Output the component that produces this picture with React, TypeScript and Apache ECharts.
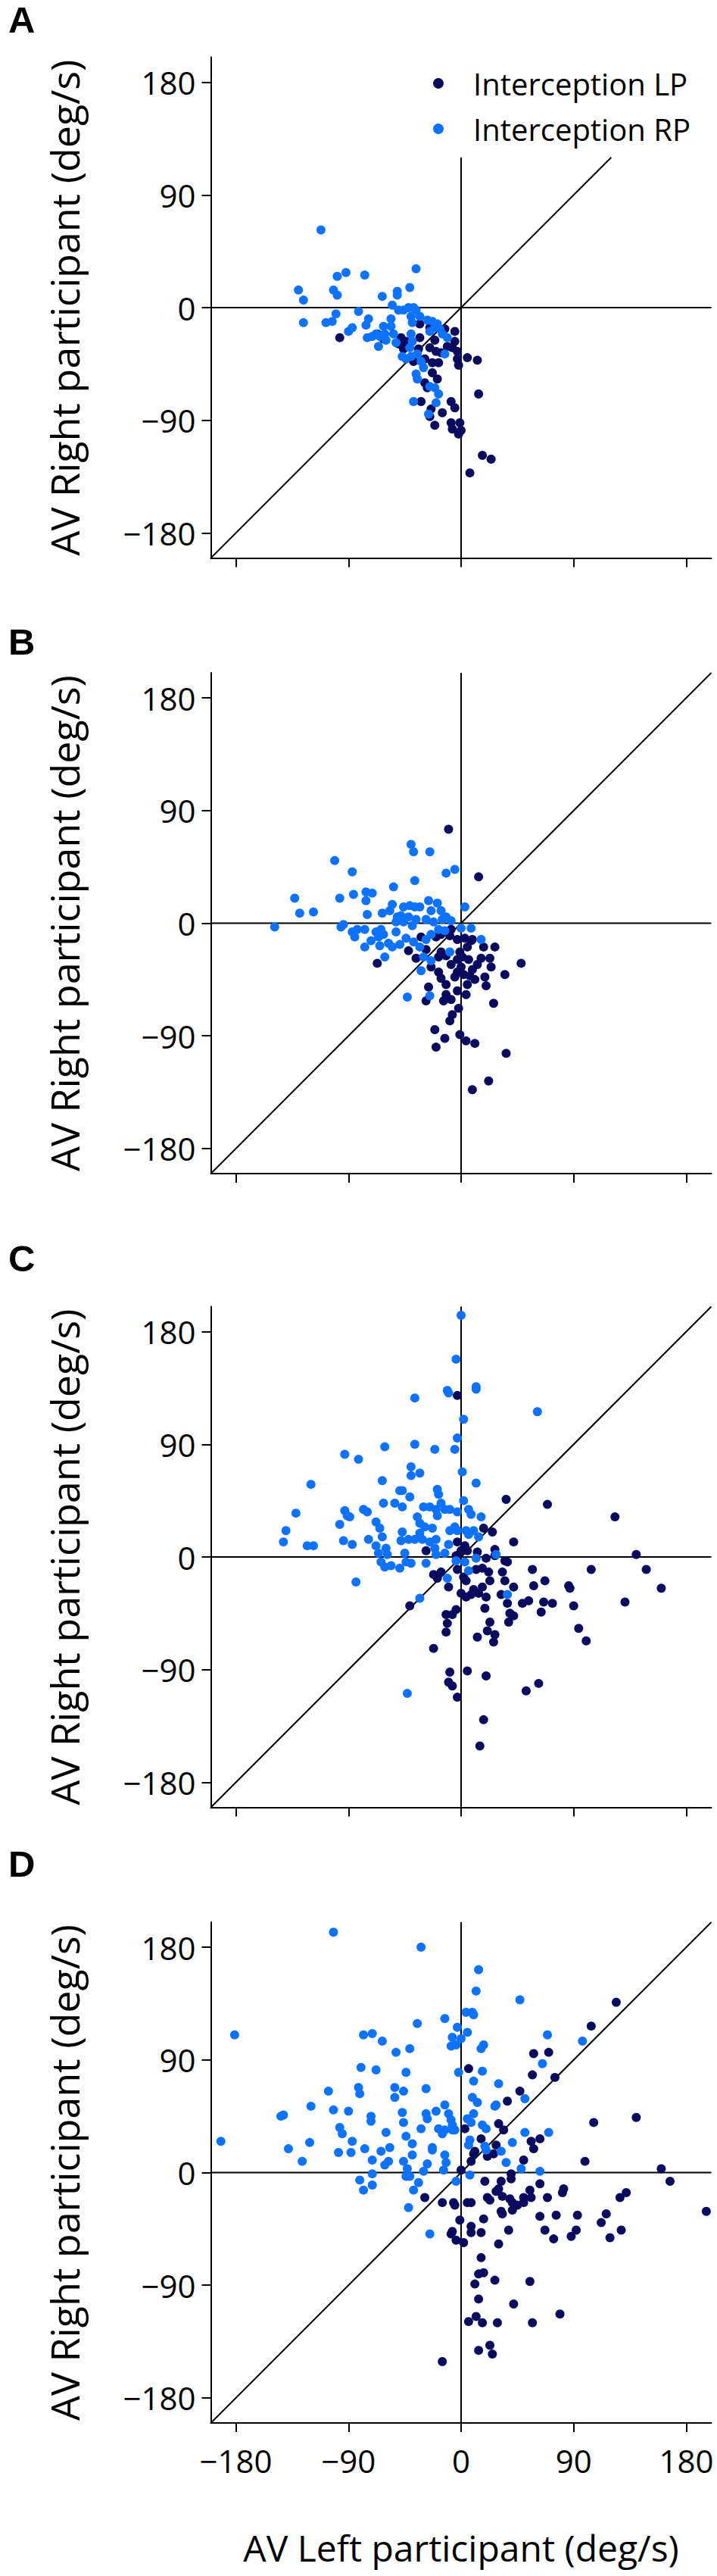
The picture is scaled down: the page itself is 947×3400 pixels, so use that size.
import React, { useEffect, useRef } from "react";
import * as echarts from "echarts";

const panelLabels = ["A", "B", "C", "D"];
const tickValues = [-180, -90, 0, 90, 180];
const refLineTop = [120, 200, 200, 200];
const seriesNames = ["Interception LP", "Interception RP"];
const seriesColors = ["#0a0a5e", "#0d72ff"];

const aLP = [[-97,-24],[-33,-13],[-25,-16],[-21,-26],[-13,-17],[-5,-19],[-5,-27],[-3,-35],[-3,-41],[-2,-46],[5,-40],[13,-42],[14,-69],[-8,-75],[-5,-80],[-15,-84],[-24,-81],[-25,-87],[-21,-94],[-32,-75],[-8,-92],[-7,-97],[-2,-101],[-1,-92],[0,-98],[17,-118],[24,-121],[7,-132],[-48,-24],[-44,-27],[-50,-29],[-46,-33],[-38,-43],[-34,-33],[-25,-32],[-29,-41],[-23,-44],[-18,-44],[-23,-52],[-19,-57],[-29,-60],[-27,-64],[-67,-21],[-62,-25],[-11,-31],[-7,-32],[-33,-24],[-16,-36],[-20,-35]];
const aRP = [[-36,31],[-92,28],[-99,25],[-77,26],[-130,14],[-126,6],[-102,14],[-99,10],[-63,9],[-51,13],[-51,10],[-41,16],[-126,-12],[-108,-12],[-103,-11],[-100,-5],[-82,-3],[-90,-19],[-87,-16],[-74,-9],[-76,-14],[-75,-24],[-66,-31],[-62,-15],[-56,-9],[-56,-15],[-55,2],[-60,-26],[-61,-21],[-65,-23],[-50,-2],[-46,-2],[-42,0],[-38,0],[-36,-2],[-40,-7],[-33,-7],[-39,-12],[-27,-10],[-23,-11],[-19,-13],[-15,-21],[-25,-19],[-21,-16],[-40,-21],[-39,-27],[-41,-32],[-47,-39],[-44,-41],[-40,-39],[-35,-37],[-32,-43],[-30,-48],[-36,-53],[-35,-57],[-25,-63],[-21,-64],[-18,-69],[-20,-76],[-38,-75],[-26,-85],[-13,-37],[-11,-24],[-17,-17],[-54,-21],[-52,-28],[-68,-21],[-71,-23],[-112,62]];

const bLP = [[14,37],[-32,-11],[-67,-32],[-42,-22],[-36,-28],[-28,-21],[-20,-11],[-16,-9],[-9,-10],[-3,-13],[3,-12],[8,-14],[5,-19],[-1,-23],[-3,-29],[0,-35],[-3,-39],[-8,-33],[-16,-23],[-18,-27],[-24,-35],[-18,-39],[-16,-44],[-12,-49],[-26,-51],[-3,-54],[4,-57],[-12,-57],[-8,-61],[-14,-62],[-28,-62],[-2,-68],[-7,-73],[-9,-78],[-21,-85],[-13,-92],[-20,-99],[-1,-89],[4,-94],[11,-96],[26,-64],[36,-104],[22,-126],[9,-133],[48,-32],[35,-41],[27,-19],[18,-19],[23,-28],[24,-35],[16,-28],[13,-33],[9,-37],[19,-43],[20,-50],[11,-45],[5,-49],[7,-42],[6,-29],[1,-27],[2,-41],[-5,-43],[-8,-5],[9,-13],[-12,-26],[-10,75]];
const bRP = [[-40,63],[-38,57],[-25,57],[-101,50],[-87,41],[-12,40],[-5,43],[-37,34],[-54,29],[-133,20],[-129,8],[-118,9],[-149,-3],[-97,20],[-86,23],[-76,25],[-71,24],[-76,18],[-75,7],[-63,8],[-57,10],[-55,15],[-96,-3],[-94,-1],[-87,-7],[-83,-5],[-85,-11],[-77,-5],[-72,-14],[-77,-19],[-68,-7],[-64,-5],[-62,-9],[-65,-18],[-61,-27],[-58,-16],[-55,-19],[-52,-7],[-51,5],[-48,6],[-52,1],[-46,13],[-41,14],[-37,13],[-33,13],[-26,18],[-19,16],[-24,10],[-16,10],[-46,1],[-42,5],[-39,-2],[-36,3],[-28,3],[-22,1],[-15,3],[-12,5],[-8,2],[-44,-12],[-38,-15],[-33,-19],[-28,-13],[-24,-9],[-18,-5],[-13,-6],[-30,-27],[-24,-30],[-32,-38],[-25,-58],[-43,-59],[-9,-23],[0,-4],[8,-4],[3,13],[16,-13],[-49,-17],[-66,-11]];

const cLP = [[-3,129],[36,46],[69,42],[123,32],[140,2],[148,-10],[160,-25],[131,-36],[104,-10],[86,-23],[87,-25],[90,-39],[94,-57],[100,-67],[57,-10],[67,-19],[58,-23],[54,-35],[49,-37],[66,-36],[73,-37],[64,-44],[42,12],[25,20],[18,23],[27,6],[27,1],[35,-3],[37,-4],[20,-1],[13,4],[12,-10],[17,-9],[22,-12],[23,-19],[33,-12],[35,-19],[42,-24],[32,-30],[37,-37],[39,-45],[42,-47],[38,-52],[23,-52],[21,-59],[27,-62],[26,-68],[13,-64],[19,-41],[20,-32],[17,-24],[14,-29],[10,-26],[8,-30],[4,-32],[0,-29],[4,-19],[2,-16],[-3,-10],[-4,1],[-3,12],[3,9],[0,5],[5,5],[-28,5],[-22,-14],[-16,-12],[-19,-17],[-10,-24],[-41,-39],[-12,-46],[-7,-46],[-4,-42],[-11,-53],[-12,-60],[-22,-73],[-9,-92],[5,-91],[20,-95],[-10,-100],[-7,-103],[-3,-112],[52,-107],[62,-101],[18,-130],[15,-151]];
const cRP = [[0,193],[-4,158],[-11,133],[-10,131],[12,136],[12,134],[-37,127],[61,116],[2,110],[-3,95],[-5,86],[-21,86],[-37,90],[-61,88],[-93,82],[-82,78],[-40,72],[-40,65],[-33,67],[1,68],[12,59],[-63,61],[-120,58],[-49,53],[-47,53],[-41,48],[-19,54],[-18,50],[-62,43],[-53,43],[-47,40],[-132,35],[-140,21],[-142,12],[-123,9],[-118,9],[-93,37],[-91,33],[-89,32],[-97,26],[-94,13],[-87,10],[-78,38],[-75,36],[-68,28],[-65,23],[-74,14],[-68,9],[-66,3],[-63,16],[-60,7],[-59,2],[-64,-4],[-61,-8],[-56,-7],[-49,-9],[-44,-4],[-40,-5],[-45,3],[-48,13],[-47,20],[-42,14],[-37,14],[-35,32],[-33,27],[-30,40],[-25,40],[-20,38],[-16,43],[-19,33],[-13,38],[-9,38],[-3,36],[2,45],[6,38],[8,34],[16,32],[-33,19],[-29,24],[-23,23],[-31,14],[-25,12],[-20,14],[-21,7],[-20,2],[-13,3],[-10,10],[-9,21],[-5,24],[-3,21],[4,21],[10,21],[14,16],[6,18],[-4,-3],[3,-4],[12,-1],[28,2],[-28,-5],[6,-11],[-11,-17],[37,-30],[-33,-33],[-84,-20],[-43,-109]];

const dLP = [[124,136],[104,117],[58,95],[70,96],[57,78],[75,76],[6,83],[47,65],[37,57],[106,40],[140,44],[30,39],[34,34],[56,25],[58,19],[63,27],[28,22],[26,15],[21,13],[16,27],[10,15],[8,9],[3,35],[0,2],[50,10],[99,9],[160,3],[167,-7],[196,-31],[132,-16],[127,-20],[116,-33],[112,-40],[119,-52],[128,-46],[93,-34],[92,-46],[88,-51],[82,-13],[81,-16],[76,-34],[74,-53],[67,-46],[69,-20],[63,-9],[63,-35],[55,-14],[56,-20],[50,-20],[50,-24],[45,-26],[41,-24],[41,-30],[40,-1],[40,-5],[32,-7],[30,-13],[28,-15],[33,-19],[39,-21],[32,-31],[33,-33],[38,-46],[30,-57],[21,-20],[23,-22],[19,-7],[18,-37],[16,-48],[8,-43],[8,-48],[5,-24],[8,-24],[-6,-24],[-5,-26],[-15,-24],[-29,-20],[-1,-38],[-7,-47],[-8,-49],[-4,-54],[2,-56],[16,-68],[14,-81],[18,-80],[11,-89],[27,-86],[55,-87],[14,-101],[42,-105],[79,-113],[57,-120],[12,-115],[6,-119],[17,-120],[29,-120],[23,-138],[25,-145],[14,-142],[-15,-151],[11,17]];
const dRP = [[-102,192],[-32,180],[14,162],[12,145],[47,138],[4,128],[9,128],[10,126],[-181,110],[-13,123],[-35,119],[-3,116],[5,112],[-7,108],[0,107],[-8,101],[-4,102],[18,102],[16,99],[-78,110],[-71,111],[-63,105],[-52,96],[-41,99],[69,110],[97,105],[65,87],[-80,84],[-68,82],[-44,80],[-2,80],[17,81],[10,73],[30,71],[-82,68],[-81,63],[-106,65],[-53,68],[-53,60],[-46,65],[-28,67],[9,60],[13,56],[27,53],[28,54],[51,59],[-120,53],[-144,45],[-142,46],[-102,50],[-90,49],[-72,45],[-72,41],[-47,48],[-46,40],[-32,35],[-28,47],[-27,43],[-20,49],[-13,54],[-10,47],[-8,42],[-18,35],[-15,31],[-13,34],[-5,34],[-7,38],[-60,32],[-97,36],[-95,31],[-87,25],[-121,24],[-138,19],[-192,25],[-127,9],[-98,16],[-88,16],[-77,19],[-71,10],[-64,17],[-57,20],[-58,9],[-61,6],[-71,-1],[-81,-6],[-78,-14],[-71,-10],[-46,9],[-43,3],[-44,-3],[-41,-3],[-39,23],[-44,29],[-39,14],[-34,-8],[-38,-14],[-42,-28],[-30,1],[-27,7],[-23,20],[-23,18],[-13,14],[-12,8],[-14,2],[-4,-7],[7,-2],[7,26],[6,22],[5,43],[8,40],[10,47],[17,38],[20,35],[19,21],[20,18],[32,17],[36,8],[41,24],[51,32],[48,3],[63,1],[70,32],[-25,-49],[-7,34]];

const panelLP = [aLP, bLP, cLP, dLP];
const panelRP = [aRP, bRP, cRP, dRP];

const FONT = "'Open Sans', 'Noto Sans', sans-serif";
const GRID_LEFT = 278.5;
const GRID_SIZE = 661;
const gridTops = [75.5, 888, 1724.5, 2537];
const labelCenters = [25.5, 846.5, 1661, 2460];

const fmt = (v: number) => (v < 0 ? "\u2212" + Math.abs(v) : String(v));

export default function App() {
  const ref = useRef<HTMLDivElement>(null);
  useEffect(() => {
    document.body.style.margin = "0";
    if (!ref.current) return;
    const chart = echarts.init(ref.current, undefined, { renderer: "svg" });
    const grids = gridTops.map((t) => ({ left: GRID_LEFT, top: t, width: GRID_SIZE, height: GRID_SIZE }));
    const xAxes = gridTops.map((_, i) => ({
      type: "value",
      gridIndex: i,
      min: -200,
      max: 200,
      axisLine: { onZero: false, lineStyle: { color: "#000", width: 2 } },
      axisTick: { show: true, length: 12, customValues: tickValues, lineStyle: { color: "#000", width: 2 } },
      axisLabel: {
        show: i === 3,
        customValues: tickValues,
        formatter: fmt,
        fontSize: 42,
        lineHeight: 42,
        fontFamily: FONT,
        color: "#000",
        margin: 28,
      },
      splitLine: { show: false },
      name: i === 3 ? "AV Left participant (deg/s)" : "",
      nameLocation: "middle",
      nameGap: 140,
      nameTextStyle: { fontSize: 48, lineHeight: 48, fontFamily: FONT, color: "#000" },
    }));
    const yAxes = gridTops.map((_, i) => ({
      type: "value",
      gridIndex: i,
      min: -200,
      max: 200,
      axisLine: { onZero: false, lineStyle: { color: "#000", width: 2 } },
      axisTick: { show: true, length: 12, customValues: tickValues, lineStyle: { color: "#000", width: 2 } },
      axisLabel: {
        show: true,
        customValues: tickValues,
        formatter: fmt,
        fontSize: 42,
        lineHeight: 42,
        fontFamily: FONT,
        color: "#000",
        margin: 20,
      },
      splitLine: { show: false },
      name: "AV Right participant (deg/s)",
      nameLocation: "middle",
      nameGap: 168,
      nameTextStyle: { fontSize: 52, lineHeight: 52, fontFamily: FONT, color: "#000" },
    }));
    const series: any[] = [];
    gridTops.forEach((_, i) => {
      const top = refLineTop[i];
      const refLines = [
        [[-200, 0], [200, 0]],
        [[0, -200], [0, top]],
        [[-200, -200], [top, top]],
      ];
      refLines.forEach((d) =>
        series.push({
          type: "line",
          xAxisIndex: i,
          yAxisIndex: i,
          data: d,
          symbol: "none",
          silent: true,
          z: 1,
          lineStyle: { color: "#000", width: 2 },
        })
      );
      [panelLP[i], panelRP[i]].forEach((d, k) =>
        series.push({
          type: "scatter",
          name: seriesNames[k],
          xAxisIndex: i,
          yAxisIndex: i,
          data: d,
          symbol: "circle",
          symbolSize: 12,
          z: 2 + k,
          itemStyle: { color: seriesColors[k], opacity: 1 },
        })
      );
    });
    chart.setOption({
      animation: false,
      color: seriesColors,
      textStyle: { fontFamily: FONT },
      grid: grids,
      xAxis: xAxes,
      yAxis: yAxes,
      legend: {
        data: seriesNames,
        orient: "vertical",
        left: 572,
        top: 90,
        padding: 0,
        itemGap: 20,
        itemWidth: 14,
        itemHeight: 14,
        icon: "circle",
        textStyle: { fontSize: 40, lineHeight: 40, fontFamily: FONT, color: "#000", padding: [0, 0, 0, 34] },
      },
      graphic: panelLabels.map((t, i) => ({
        type: "text",
        x: 11,
        y: labelCenters[i],
        style: {
          text: t,
          fontSize: 49,
          fontWeight: "bold",
          fontFamily: "'Liberation Sans', Arial, sans-serif",
          fill: "#000",
          verticalAlign: "middle",
          align: "left",
        },
      })),
      series,
    });
    return () => chart.dispose();
  }, []);
  return <div ref={ref} style={{ width: 947, height: 3400 }} />;
}
